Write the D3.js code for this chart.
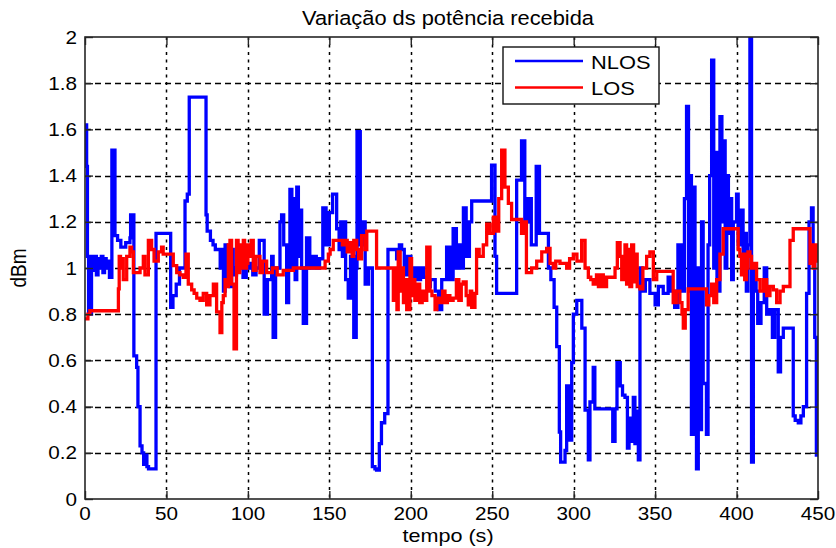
<!DOCTYPE html>
<html>
<head>
<meta charset="utf-8">
<script src="https://cdn.jsdelivr.net/npm/d3@7"></script>
<style>
  body { margin: 0; background: #fff; }
  text { font-family: "Liberation Sans", Arial, sans-serif; fill: #000; }
</style>
</head>
<body>
<svg id="chart" width="836" height="548"></svg>
<script>
// Received power over time, sampled as [time (s), level (dBm)] pairs
const nlos = [
  [0,1.62],[1,1.44],[1.5,1.05],[2.2,0.80],[4,1.05],[5,0.99],[6,1.05],[7,0.97],[8,1.04],[9,1.0],
  [10,1.05],[11,0.98],[12,1.04],[13,1.0],[14,1.03],[15,0.96],[16.5,1.51],[18.4,1.14],[20,1.12],[22,1.09],
  [25,1.11],[27.6,1.13],[28,1.23],[30,0.62],[31.7,0.57],[32.5,0.40],[33.8,0.23],[35,0.20],[36,0.15],[37,0.19],
  [38,0.14],[39,0.13],[43.6,1.15],[52.6,0.83],[54,0.88],[56,0.93],[58,1.0],[61.4,1.29],[62.8,1.32],[64,1.74],
  [74.3,1.23],[75,1.16],[77,1.12],[78.6,1.10],[80,1.08],[83,1.0],[84,1.08],[85,0.9],[86,1.1],[87,0.93],
  [88,1.05],[89,0.92],[90,1.08],[91,0.97],[93,1.0],[95,1.05],[97,0.96],[99,1.0],[101,1.02],[103,0.97],
  [105,1.0],[107,1.12],[110,0.80],[112,0.95],[114.6,1.05],[115.5,0.70],[117,1.0],[119.7,1.2],[120.7,1.23],[122,1.1],
  [123.8,0.85],[125,1.1],[125.8,1.34],[127,1.0],[128,1.3],[129,0.95],[130,1.35],[131,1.05],[132,1.25],[133,1.0],
  [134,0.76],[136,1.13],[138,1.0],[140,1.05],[142,1.0],[144,1.04],[146,1.26],[148,1.1],[150,1.24],[152,1.32],
  [154.5,1.17],[156,1.08],[157,1.2],[158,1.05],[159,1.2],[160,0.95],[161.6,0.87],[163,1.05],[165,0.70],[166.5,1.0],
  [167,1.59],[169,1.1],[170,1.2],[172,0.93],[174,1.0],[176.4,0.14],[178,0.13],[179,0.125],[180.7,0.24],[182,0.33],
  [184,0.37],[186,1.08],[191.3,1.04],[193,1.1],[194.4,1.08],[196,0.97],[198,1.05],[200,0.93],[202,1.0],[204,0.95],
  [206,1.0],[208,0.96],[210,0.92],[212,0.95],[215,0.9],[217,0.82],[219,0.95],[222,1.09],[224,0.95],[226,1.17],
  [228,1.0],[230,1.1],[231,1.0],[232.3,1.26],[234,1.05],[236,1.2],[237.4,1.29],[249.6,1.445],[251.7,1.05],[252.7,0.89],
  [265,1.38],[268,1.55],[270,1.2],[272,1.3],[274,1.1],[277,1.44],[279,1.15],[284.5,1.0],[286,0.95],[288,0.83],
  [289.6,0.66],[291.2,0.29],[292,0.16],[294.7,0.21],[295.7,0.49],[297.7,0.255],[298.8,0.59],[299.8,0.80],[301.9,0.86],[305,0.74],
  [307,0.385],[309,0.17],[310,0.42],[312,0.57],[313,0.39],[324,0.25],[325.4,0.39],[326.6,0.59],[328.6,0.49],[330,0.45],
  [331.5,0.44],[333,0.22],[334,0.35],[335,0.25],[336.6,0.44],[337.6,0.24],[338.5,0.38],[339.7,0.17],[340.7,1.0],[342,0.9],
  [344,0.95],[346.8,0.89],[350,0.84],[352,0.92],[355,0.89],[358,0.96],[360,0.9],[362,0.83],[364,1.1],[366,0.9],
  [368,1.3],[369.3,1.70],[370.5,0.9],[371.5,1.4],[372.3,0.28],[373.5,1.35],[374.5,0.6],[375.4,0.13],[376.5,1.0],[377.5,0.3],
  [378.5,1.2],[379.5,0.5],[381.5,0.28],[382.5,1.1],[383.5,1.4],[384.7,1.90],[386,1.0],[387,1.5],[388,0.9],[389.8,1.655],
  [391,1.2],[392,1.55],[393,1.0],[394,1.4],[395,1.15],[396,1.3],[397,0.95],[398,1.2],[400,1.32],[401,1.1],
  [403,1.25],[404,1.0],[405,1.15],[406,0.9],[407,1.1],[408.2,2.1],[409.2,0.16],[410.3,1.0],[412,0.9],[413,0.76],
  [415,0.85],[417,1.0],[418.5,0.8],[420.5,0.82],[422,0.7],[423.5,0.82],[425.6,0.55],[427,0.7],[428.7,0.74],[434.8,0.36],
  [436,0.34],[437.9,0.33],[439.5,0.36],[441,0.4],[443,0.89],[444.5,1.2],[446,1.26],[447,1.02],[448,0.70],[449,0.19],
  [450,0.19]
];

const los = [
  [0,0.78],[1.8,0.80],[3,0.815],[20.5,0.91],[21,1.05],[21.8,1.0],[22.5,1.04],[23.5,0.95],[25.6,1.05],[27.6,1.09],
  [28.6,1.07],[29.7,0.98],[33.8,1.0],[35.8,1.05],[36.8,0.97],[38.9,1.12],[40.9,1.08],[42.4,1.03],[45,1.07],[47,1.09],
  [48,1.06],[54.2,1.01],[56.3,0.98],[58.3,0.97],[60.3,0.96],[62,1.06],[63.4,0.93],[65.5,0.905],[67,0.89],[68.6,0.87],
  [70.6,0.86],[72.6,0.89],[74.7,0.84],[76.7,0.88],[78.8,0.93],[80.8,0.81],[82.9,0.72],[84,0.85],[84.9,0.88],[86,0.95],
  [87,0.92],[88,1.1],[89,1.12],[90,0.93],[91.5,0.65],[93,1.12],[94,0.98],[95,1.0],[96,1.1],[97.2,1.12],
  [98,1.0],[99.2,1.02],[100,1.1],[101.3,1.05],[102,1.12],[103.3,0.99],[105,1.05],[107.4,0.98],[109,1.03],[111.5,0.98],
  [115,1.0],[118,0.97],[121.7,0.99],[127.9,1.0],[147.4,1.03],[149.4,1.06],[150.5,1.08],[152.4,1.12],[156.5,1.12],[158,1.1],
  [159.6,1.12],[161,1.07],[162.7,1.11],[164,1.05],[165,1.12],[166.8,1.08],[168,1.04],[169.8,1.14],[171.9,1.08],[173,1.16],
  [179,1.0],[189.3,0.86],[190.5,1.0],[191.5,0.82],[192.3,1.07],[193.5,0.9],[194.5,1.0],[195.5,0.85],[196.5,0.95],[197.5,0.82],
  [199.5,1.04],[200.5,0.88],[201.5,0.95],[202.5,0.86],[204,0.93],[205.5,0.85],[207,0.9],[208.5,0.86],[209.8,1.09],[211.8,0.9],
  [213,0.88],[214.9,0.82],[216,0.87],[218,0.85],[219.5,0.9],[221,0.85],[222.5,0.88],[224,0.86],[226,0.87],[228,0.95],
  [229.5,0.86],[231,0.93],[232.2,0.94],[234,0.88],[235.3,0.84],[236.5,0.90],[237.4,0.83],[239.4,0.89],[240.4,1.08],[242,1.05],
  [244.5,1.10],[246.6,1.19],[248.6,1.15],[250.7,1.22],[252.7,1.16],[254,1.3],[255.8,1.51],[257.8,1.35],[259.9,1.28],[261.9,1.21],
  [268,1.15],[270,1.2],[271,0.98],[274.2,1.0],[277.3,1.03],[280.4,1.07],[283.4,1.085],[285.5,1.02],[287.5,1.0],[289,1.03],
  [291.6,1.02],[295.7,1.0],[297.5,1.04],[299.8,1.06],[302,1.03],[304.9,1.12],[307,1.0],[309,0.96],[310.5,0.95],[312,0.93],
  [314,0.97],[315.2,0.92],[316.5,0.97],[318.2,0.92],[320.2,0.96],[325.4,1.0],[326.8,1.11],[328.5,1.05],[329.5,0.95],[331.5,1.1],
  [332.5,0.93],[333.5,1.08],[334.5,0.92],[335.6,1.1],[336.8,0.94],[338,1.06],[339,0.92],[340.7,0.91],[342.5,1.0],[344.8,1.05],
  [346.8,1.07],[348.9,0.95],[351,0.985],[361.1,0.85],[363,0.9],[365.2,0.85],[366.5,0.8],[367.3,0.74],[368.5,0.82],[370.3,0.91],
  [381.6,0.84],[383,0.88],[384.7,0.93],[386,0.85],[387.8,0.95],[389.8,1.06],[391.8,1.17],[401,1.08],[402,1.05],[403,0.97],
  [404,1.06],[405,0.95],[406.1,1.0],[407,1.07],[408.2,1.05],[409.2,1.0],[410.5,1.02],[412.3,0.95],[414.4,0.9],[416.5,0.95],
  [418.5,0.88],[420.5,0.92],[422.6,0.905],[424.6,0.85],[426.7,0.9],[428.7,0.92],[432.8,1.12],[434.8,1.17],[444,1.17],[445.1,1.02],
  [446,1.1],[447,1.0],[448,1.1],[449,1.03],[450,1.05]
];

const xTicks = [0, 50, 100, 150, 200, 250, 300, 350, 400, 450];
const yTicks = [0, 0.2, 0.4, 0.6, 0.8, 1, 1.2, 1.4, 1.6, 1.8, 2];
const yTickLabels = ["0", "0.2", "0.4", "0.6", "0.8", "1", "1.2", "1.4", "1.6", "1.8", "2"];
const seriesNames = ["NLOS", "LOS"];
const seriesColors = ["#0000ff", "#ff0000"];
const titleText = "Variação ds potência recebida";
const xLabel = "tempo (s)";
const yLabel = "dBm";

const svg = d3.select("#chart");
const plot = { left: 85, right: 818, top: 37, bottom: 499 };
const stretch = 1.15;   // glyphs are drawn slightly wide

const x = d3.scaleLinear().domain([0, 450]).range([plot.left, plot.right]);
const y = d3.scaleLinear().domain([0, 2]).range([plot.bottom, plot.top]);

svg.append("defs").append("clipPath").attr("id", "plotClip")
  .append("rect")
  .attr("x", plot.left).attr("y", plot.top)
  .attr("width", plot.right - plot.left).attr("height", plot.bottom - plot.top);

// grid
const grid = svg.append("g");
grid.selectAll("line.v").data(xTicks.slice(1, -1)).join("line")
  .attr("x1", d => Math.round(x(d)) + 0.5).attr("x2", d => Math.round(x(d)) + 0.5)
  .attr("y1", plot.top).attr("y2", plot.bottom)
  .attr("stroke", "#000").attr("stroke-width", 1.5)
  .attr("stroke-dasharray", "3,4.5");
grid.selectAll("line.h").data(yTicks.slice(1, -1)).join("line")
  .attr("x1", plot.left).attr("x2", plot.right)
  .attr("y1", d => Math.round(y(d)) + 0.5).attr("y2", d => Math.round(y(d)) + 0.5)
  .attr("stroke", "#000").attr("stroke-width", 1.5)
  .attr("stroke-dasharray", "6,4");

// series
const line = d3.line().x(d => x(d[0])).y(d => y(d[1])).curve(d3.curveStepAfter);
const dataG = svg.append("g").attr("clip-path", "url(#plotClip)");
[nlos, los].forEach((s, i) => {
  dataG.append("path").datum(s)
    .attr("d", line)
    .attr("fill", "none")
    .attr("stroke", seriesColors[i])
    .attr("stroke-width", 3.3)
    .attr("stroke-linejoin", "miter");
});

// axes box with inward ticks
const axisColor = "#262626";
const bottomAxis = d3.axisBottom(x).tickValues(xTicks).tickSize(-8).tickFormat("");
const topAxis = d3.axisTop(x).tickValues(xTicks).tickSize(-8).tickFormat("");
const leftAxis = d3.axisLeft(y).tickValues(yTicks).tickSize(-8).tickFormat("");
const rightAxis = d3.axisRight(y).tickValues(yTicks).tickSize(-8).tickFormat("");
function styleAxis(g) {
  g.select(".domain").remove();
  g.selectAll(".tick line").attr("stroke", axisColor).attr("stroke-width", 1.4);
}
svg.append("g").attr("transform", `translate(0,${plot.bottom})`).call(bottomAxis).call(styleAxis);
svg.append("g").attr("transform", `translate(0,${plot.top})`).call(topAxis).call(styleAxis);
svg.append("g").attr("transform", `translate(${plot.left},0)`).call(leftAxis).call(styleAxis);
svg.append("g").attr("transform", `translate(${plot.right},0)`).call(rightAxis).call(styleAxis);
svg.append("rect")
  .attr("x", plot.left).attr("y", plot.top)
  .attr("width", plot.right - plot.left).attr("height", plot.bottom - plot.top)
  .attr("fill", "none").attr("stroke", axisColor).attr("stroke-width", 1.6);

// tick labels
svg.append("g").selectAll("text").data(xTicks).join("text")
  .attr("transform", d => `translate(${x(d)},520) scale(${stretch},1)`)
  .attr("text-anchor", "middle")
  .attr("font-size", 18)
  .text(d => d);
svg.append("g").selectAll("text").data(yTicks).join("text")
  .attr("transform", d => `translate(77,${y(d) + 6.5}) scale(${stretch},1)`)
  .attr("text-anchor", "end")
  .attr("font-size", 18)
  .text((d, i) => yTickLabels[i]);

// title and axis labels
svg.append("text")
  .attr("transform", `translate(448,25) scale(1.12,1)`)
  .attr("text-anchor", "middle").attr("font-size", 19.5)
  .text(titleText);
svg.append("text")
  .attr("transform", `translate(448,542) scale(1.2,1)`)
  .attr("text-anchor", "middle").attr("font-size", 18)
  .text(xLabel);
svg.append("text")
  .attr("transform", `translate(26,268) rotate(-90) scale(1,1.15)`)
  .attr("text-anchor", "middle").attr("font-size", 19)
  .text(yLabel);

// legend
const lg = svg.append("g");
lg.append("rect")
  .attr("x", 503).attr("y", 47).attr("width", 156).attr("height", 57)
  .attr("fill", "#fff").attr("stroke", "#111").attr("stroke-width", 1.4);
seriesNames.forEach((name, i) => {
  const yy = 61 + i * 26.5;
  lg.append("line")
    .attr("x1", 515).attr("x2", 583).attr("y1", yy).attr("y2", yy)
    .attr("stroke", seriesColors[i]).attr("stroke-width", 2.5);
  lg.append("text")
    .attr("transform", `translate(591,${yy + 7.5}) scale(${stretch},1)`)
    .attr("font-size", 19)
    .text(name);
});
</script>
</body>
</html>
